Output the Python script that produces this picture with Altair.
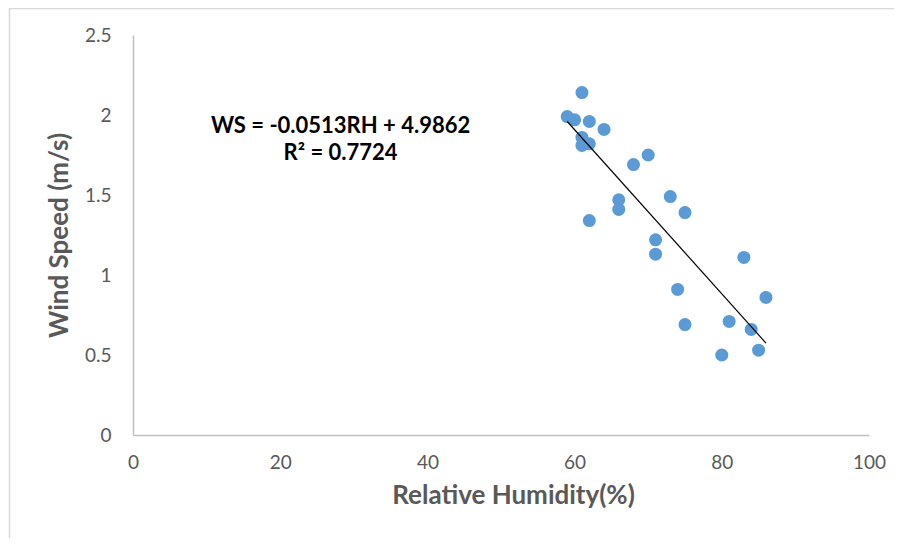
import altair as alt
import pandas as pd

# Data
rh = [61, 59, 60, 62, 64, 61, 61, 62, 70, 68, 73, 66, 66, 75, 62, 71, 71, 83, 74, 86, 81, 75, 84, 85, 80]
ws = [2.14, 1.99, 1.97, 1.96, 1.91, 1.86, 1.81, 1.82, 1.75, 1.69, 1.49, 1.47, 1.41, 1.39, 1.34, 1.22, 1.13, 1.11, 0.91, 0.86, 0.71, 0.69, 0.66, 0.53, 0.50]

slope = -0.0513
intercept = 4.9862
eq_lines = ["WS = -0.0513RH + 4.9862", "R² = 0.7724"]
eq_x = [28.2, 28.2]
eq_y = [1.93, 1.765]

x_ticks = [0, 20, 40, 60, 80, 100]
y_ticks = [0, 0.5, 1, 1.5, 2, 2.5]

df = pd.DataFrame({"RH": rh, "WS": ws})
trend = pd.DataFrame({"RH": [min(rh), max(rh)]})
trend["WS"] = slope * trend["RH"] + intercept
ann = pd.DataFrame({"RH": eq_x, "WS": eq_y, "label": eq_lines})

FONT = "Lato"
GRAY = "#595959"

x_enc = alt.X("RH:Q", scale=alt.Scale(domain=[0, 100], nice=False),
              axis=alt.Axis(title="Relative Humidity(%)", values=x_ticks, format="d",
                            grid=False, ticks=False, tickSize=0, domainColor="#BFBFBF",
                            domainWidth=1.5, labelPadding=18, labelFontSize=19,
                            labelFlush=False, labelOverlap=False,
                            labelColor=GRAY, labelFont=FONT, titleFont=FONT,
                            titleFontSize=26, titleFontWeight="bold", titleColor=GRAY,
                            titlePadding=10, titleX=380))
y_enc = alt.Y("WS:Q", scale=alt.Scale(domain=[0, 2.5], nice=False),
              axis=alt.Axis(title="Wind Speed (m/s)", values=y_ticks,
                            labelExpr="datum.value + ''",
                            grid=False, ticks=False, tickSize=0, domainColor="#BFBFBF",
                            domainWidth=1.5, labelPadding=22, labelFontSize=19,
                            labelFlush=False, labelOverlap=False,
                            labelColor=GRAY, labelFont=FONT, titleFont=FONT,
                            titleFontSize=26, titleFontWeight="bold", titleColor=GRAY,
                            titlePadding=12))

points = alt.Chart(df).mark_circle(size=170, color="#5B9BD5", opacity=1).encode(x=x_enc, y=y_enc)
line = alt.Chart(trend).mark_line(color="#000000", strokeWidth=1.2).encode(x="RH:Q", y="WS:Q")
text = alt.Chart(ann).mark_text(font=FONT, fontSize=22, fontWeight="bold", color="#000000",
                                align="center", baseline="middle").encode(
    x="RH:Q", y="WS:Q", text="label:N")

border_top = alt.Chart(pd.DataFrame({"b": [0]})).mark_rule(color="#D9D9D9", strokeWidth=1.5, clip=False).encode(
    x=alt.value(-124), x2=alt.value(780), y=alt.value(-26.5))
border_left = alt.Chart(pd.DataFrame({"b": [0]})).mark_rule(color="#D9D9D9", strokeWidth=1.5, clip=False).encode(
    x=alt.value(-123.5), y=alt.value(-27), y2=alt.value(510))

chart = alt.layer(border_top, border_left, points, line, text).properties(
    width=736, height=400,
    autosize=alt.AutoSizeParams(type="none"),
    padding={"left": 125, "top": 27, "right": 25, "bottom": 103},
    background="#FFFFFF",
).configure_view(stroke=None)

chart.save("out.html", embed_options={"renderer": "svg", "actions": False})
